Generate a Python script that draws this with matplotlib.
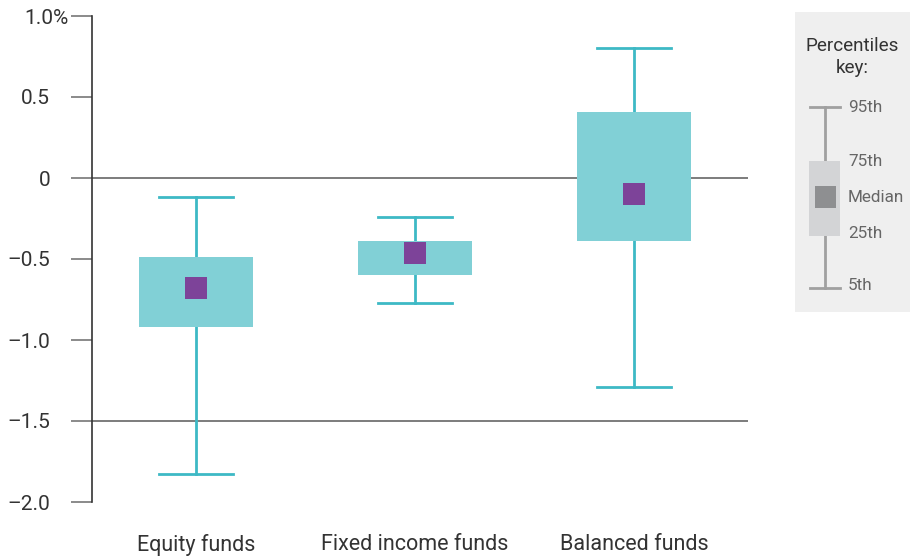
import numpy as np
import matplotlib.pyplot as plt
import matplotlib.transforms as mtransforms
from matplotlib.patches import Rectangle

plt.rcParams['font.family'] = ['Roboto', 'DejaVu Sans']

# Data (percent)
categories = ['Equity funds', 'Fixed income funds', 'Balanced funds']
p95 = [-0.12, -0.24, 0.80]
p75 = [-0.49, -0.39, 0.41]
median = [-0.68, -0.46, -0.10]
p25 = [-0.92, -0.60, -0.39]
p5 = [-1.83, -0.77, -1.29]
yticks = [1.0, 0.5, 0, -0.5, -1.0, -1.5, -2.0]
ytick_labels = ['1.0%', '0.5', '0', '\u20130.5', '\u20131.0', '\u20131.5', '\u20132.0']

BOX = '#81d0d6'
WHISK = '#3db9c5'
MED = '#7d4399'
TEXT = '#333333'
GRID = '#666666'

fig = plt.figure(figsize=(9.1, 5.56), dpi=100)
ax = fig.add_axes([92 / 910, 54 / 556, 656 / 910, 486 / 556])

x = np.arange(len(categories))
box_w = 0.52
cap_w = 0.34

for yv in [0, -1.5]:
    ax.axhline(yv, color=GRID, lw=1.2, zorder=1)

for i in x:
    ax.plot([i, i], [p5[i], p95[i]], color=WHISK, lw=2, zorder=2)
    ax.plot([i - cap_w / 2, i + cap_w / 2], [p95[i], p95[i]], color=WHISK, lw=2, zorder=2)
    ax.plot([i - cap_w / 2, i + cap_w / 2], [p5[i], p5[i]], color=WHISK, lw=2, zorder=2)
    ax.add_patch(Rectangle((i - box_w / 2, p25[i]), box_w, p75[i] - p25[i],
                           facecolor=BOX, edgecolor='none', zorder=3))
ax.scatter(x, median, marker='s', s=250, color=MED, zorder=4, linewidths=0)

ax.set_xlim(-0.475, 2.521)
ax.set_ylim(-2.0, 1.0)
ax.set_yticks(yticks)
ax.set_yticklabels(ytick_labels)
ax.set_xticks(x)
ax.set_xticklabels(categories)
ax.tick_params(axis='x', length=0, pad=23, labelsize=15.5, labelcolor=TEXT)
ax.tick_params(axis='y', length=15, width=1.2, color='#777777', pad=15,
               labelsize=15, labelcolor=TEXT)
# let the % sign of the top label hang out to the right
top_lab = ax.get_yticklabels()[0]
top_lab.set_transform(top_lab.get_transform() +
                      mtransforms.ScaledTranslation(18 / 100, 0, fig.dpi_scale_trans))
for s in ['top', 'right', 'bottom']:
    ax.spines[s].set_visible(False)
ax.spines['left'].set_color('#333333')
ax.spines['left'].set_linewidth(1.2)

# Percentiles key panel (pixel layout)
kx = fig.add_axes([795 / 910, 244 / 556, 115 / 910, 300 / 556])
kx.set_xlim(0, 115)
kx.set_ylim(300, 0)
kx.set_facecolor('#efefef')
kx.set_xticks([])
kx.set_yticks([])
for s in kx.spines.values():
    s.set_visible(False)

KW = '#a0a0a0'
kx.text(57, 45, 'Percentiles\nkey:', ha='center', va='center', fontsize=13.6,
        color=TEXT, linespacing=1.25)
kx.plot([30, 30], [95, 276], color=KW, lw=2)
kx.plot([15, 45], [95, 95], color=KW, lw=2)
kx.plot([15, 45], [276, 276], color=KW, lw=2)
kx.add_patch(Rectangle((14, 149), 31, 75, facecolor='#d3d4d6', edgecolor='none', zorder=3))
kx.add_patch(Rectangle((20, 174), 21, 22, facecolor='#8e8f91', edgecolor='none', zorder=4))
key_labels = ['95th', '75th', 'Median', '25th', '5th']
key_y = [95, 149, 185, 222, 274]
for lab, yy in zip(key_labels, key_y):
    kx.text(53, yy, lab, ha='left', va='center', fontsize=12.3, color='#666666')

fig.savefig('out.png', dpi=100)
